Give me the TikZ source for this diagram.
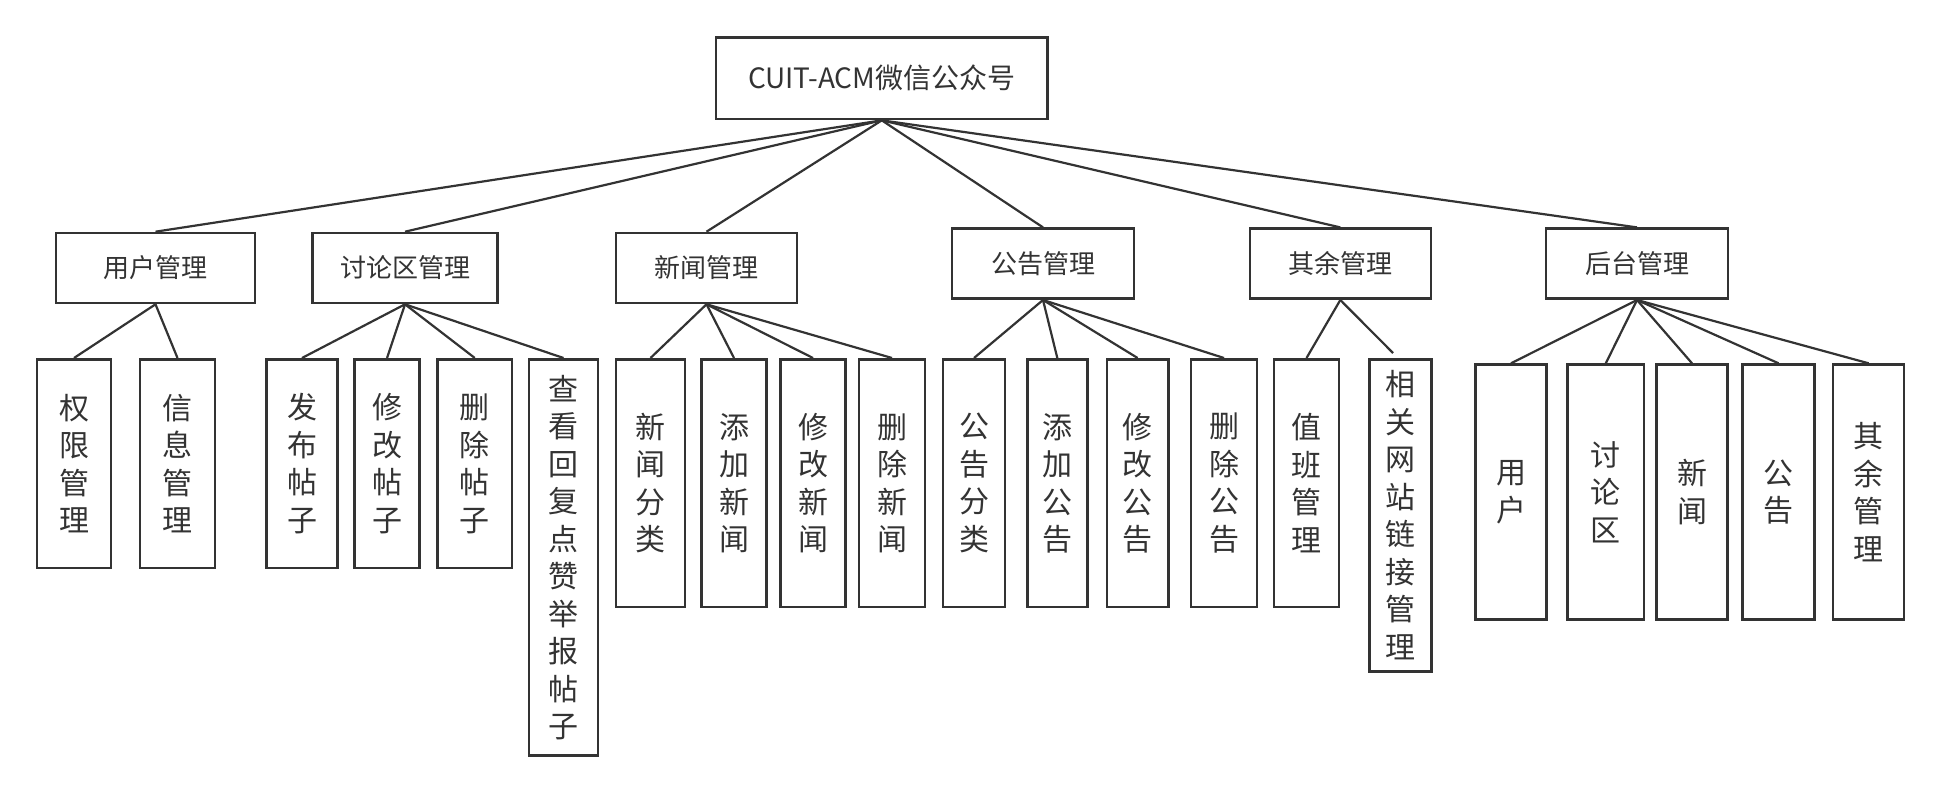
\documentclass[tikz,border=0pt]{standalone}
\usepackage{fontspec}
\setmainfont{Noto Sans CJK SC}
\definecolor{ink}{HTML}{333333}

\begin{document}
\begin{tikzpicture}[x = 1pt, y = -1pt, line width = 2.2pt, color = ink,
  box/.style = {draw, line width = 2.6pt, inner sep = 0pt},
  topbox/.style = {box, font = \fontsize{28pt}{33pt}\selectfont},
  midbox/.style = {box, minimum height = 70pt, font = \fontsize{26pt}{30pt}\selectfont},
  leafbox/.style = {box, anchor = north, align = center, font = \fontsize{30pt}{37.5pt}\selectfont}]
\useasboundingbox (0, 0) rectangle (1942, 791);
\node[topbox, minimum width = 331.6pt, minimum height = 81.7pt] (wx) at (881.8, 78.2) {CUIT-ACM微信公众号};
% second row
\foreach \n/\x/\y/\w/\t in {yh/155.5/268/199/用户管理, tl/405/268/185/讨论区管理, xw/706.5/268/181/新闻管理,
  gg/1043/263.7/182.2/公告管理, qy/1340.3/263.7/181/其余管理, ht/1637/263.7/182/后台管理}
  {\node[midbox, minimum width = \w pt] (\n) at (\x, \y) {\t};
   \draw (wx.south) -- (\n.north);}
% third row
\foreach \p/\n/\x/\y/\w/\h/\t in {
  yh/qxgl/74/358/74/208.7/{权\\限\\管\\理},
  yh/xxgl/177.5/358/75/208.7/{信\\息\\管\\理},
  tl/fbtz/302/358/71/208.7/{发\\布\\帖\\子},
  tl/xgtz/387/358/65/208.7/{修\\改\\帖\\子},
  tl/sctz/474.8/358/74.5/208.7/{删\\除\\帖\\子},
  tl/ckhf/563.5/358/69/396.3/{查\\看\\回\\复\\点\\赞\\举\\报\\帖\\子},
  xw/xwfl/650.5/358/69/247.7/{新\\闻\\分\\类},
  xw/tjxw/734/358/65.5/247.7/{添\\加\\新\\闻},
  xw/xgxw/813/358/65/247.7/{修\\改\\新\\闻},
  xw/scxw/892/358/66/247.7/{删\\除\\新\\闻},
  gg/ggfl/974/358/62/247.7/{公\\告\\分\\类},
  gg/tjgg/1057.3/358/60/247.7/{添\\加\\公\\告},
  gg/xggg/1137.6/358/61.4/247.7/{修\\改\\公\\告},
  gg/scgg/1224/358/65.8/247.7/{删\\除\\公\\告},
  qy/zbgl/1306.5/358/65/247.7/{值\\班\\管\\理},
  ht/htyh/1511/363.3/71/255/{用\\户},
  ht/httl/1605.8/363.3/76.5/255/{讨\\论\\区},
  ht/htxw/1692/363.3/71/255/{新\\闻},
  ht/htgg/1778.5/363.3/71.5/255/{公\\告},
  ht/htqy/1868.6/363.3/71/255/{其\\余\\管\\理}}
  {\node[leafbox, minimum width = \w pt, minimum height = \h pt] (\n) at (\x, \y) {\t};
   \draw (\p.south) -- (\n.north);}
\node[leafbox, minimum width = 62pt, minimum height = 312pt] (xgwz) at (1400.5, 358) {相\\关\\网\\站\\链\\接\\管\\理};
\coordinate (wzend) at (1393, 353);
\draw (qy.south) -- (wzend);
\end{tikzpicture}
\end{document}
